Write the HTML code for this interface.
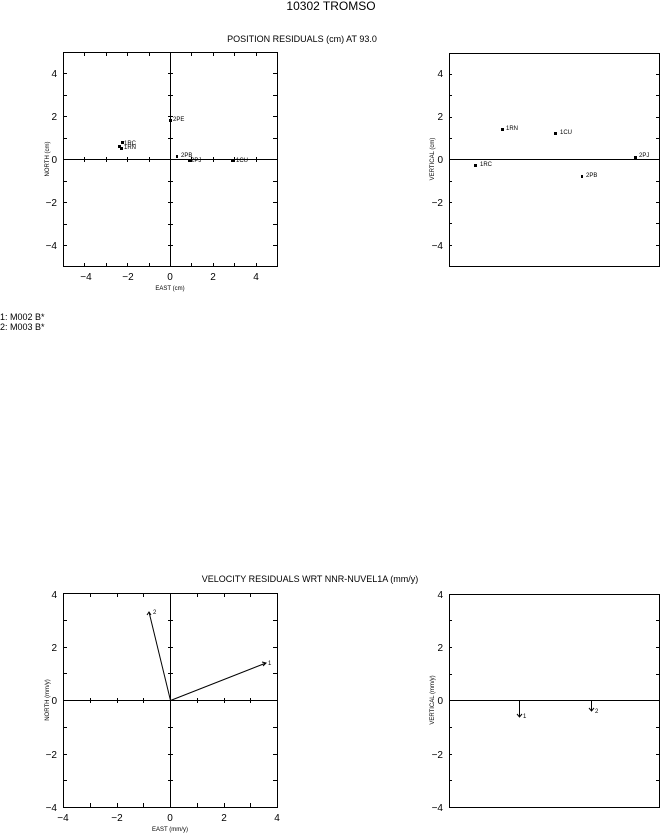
<!DOCTYPE html>
<html><head><style>
html,body{margin:0;padding:0;background:#fff;}
svg text{font-family:"Liberation Sans",sans-serif;fill:#000;}
</style></head><body>
<svg width="663" height="833" viewBox="0 0 663 833" xmlns="http://www.w3.org/2000/svg">
<text x="331" y="10" font-size="12" text-anchor="middle">10302 TROMSO</text>
<text x="302" y="42" font-size="9" text-anchor="middle">POSITION RESIDUALS (cm) AT 93.0</text>
<text x="310" y="582" font-size="9" text-anchor="middle">VELOCITY RESIDUALS WRT NNR-NUVEL1A (mm/y)</text>

<g stroke="#000" fill="none" stroke-width="1">
<rect x="63.5" y="52.5" width="214" height="214"/>
<line x1="63" y1="159.5" x2="277" y2="159.5"/>
<line x1="170.5" y1="52" x2="170.5" y2="267"/>
<rect x="449.5" y="53.5" width="210" height="213"/>
<line x1="449" y1="159.5" x2="659" y2="159.5"/>
<rect x="63.5" y="593.5" width="214" height="214"/>
<line x1="63" y1="700.5" x2="277" y2="700.5"/>
<line x1="170.5" y1="593" x2="170.5" y2="807"/>
<line x1="170.5" y1="700.5" x2="266" y2="663"/>
<line x1="170.5" y1="700.5" x2="149" y2="612"/>
<rect x="449.5" y="594.5" width="210" height="213"/>
<line x1="449" y1="700.5" x2="659" y2="700.5"/>
<line x1="519.5" y1="700" x2="519.5" y2="717"/>
<line x1="591.5" y1="700" x2="591.5" y2="711"/>
<path d="M517 714 L519.5 717 L522 714 M589 708 L591.5 711 L594 708 M262 662 L266 663 L263 666 M147 615 L149 612 L151 615"/>
</g>
<g stroke="#000" stroke-width="1">
<path d="M84.5 52v4M106.5 52v4M127.5 52v4M149.5 52v4M191.5 52v4M213.5 52v4M234.5 52v4M256.5 52v4
M84.5 267v-4M106.5 267v-4M127.5 267v-4M149.5 267v-4M191.5 267v-4M213.5 267v-4M234.5 267v-4M256.5 267v-4
M63 73.5h4M63 95.5h4M63 116.5h4M63 138.5h4M63 181.5h4M63 202.5h4M63 224.5h4M63 245.5h4
M277 73.5h-4M277 95.5h-4M277 116.5h-4M277 138.5h-4M277 181.5h-4M277 202.5h-4M277 224.5h-4M277 245.5h-4
M168 73.5h5M168 95.5h5M168 116.5h5M168 138.5h5M168 181.5h5M168 202.5h5M168 224.5h5M168 245.5h5
M84.5 157v5M106.5 157v5M127.5 157v5M149.5 157v5M191.5 157v5M213.5 157v5M234.5 157v5M256.5 157v5"/>
<path d="M449 74.5h3M449 95.5h3M449 117.5h3M449 138.5h3M449 181.5h3M449 202.5h3M449 223.5h3M449 245.5h3
M659 74.5h-3M659 95.5h-3M659 117.5h-3M659 138.5h-3M659 181.5h-3M659 202.5h-3M659 223.5h-3M659 245.5h-3"/>
<path d="M90.5 593v4M117.5 593v4M143.5 593v4M197.5 593v4M224.5 593v4M250.5 593v4
M90.5 807v-4M117.5 807v-4M143.5 807v-4M197.5 807v-4M224.5 807v-4M250.5 807v-4
M63 620.5h4M63 647.5h4M63 673.5h4M63 727.5h4M63 754.5h4M63 780.5h4
M277 620.5h-4M277 647.5h-4M277 673.5h-4M277 727.5h-4M277 754.5h-4M277 780.5h-4
M168 620.5h5M168 647.5h5M168 673.5h5M168 727.5h5M168 754.5h5M168 780.5h5
M90.5 698v5M117.5 698v5M143.5 698v5M197.5 698v5M224.5 698v5M250.5 698v5"/>
<path d="M449 620.5h3M449 647.5h3M449 674.5h3M449 727.5h3M449 754.5h3M449 780.5h3
M659 620.5h-3M659 647.5h-3M659 674.5h-3M659 727.5h-3M659 754.5h-3M659 780.5h-3"/>
</g>
<g font-size="10" text-anchor="end">
<text x="57" y="77">4</text><text x="57" y="120">2</text><text x="57" y="163">0</text><text x="57" y="206">−2</text><text x="57" y="249">−4</text>
<text x="443" y="77">4</text><text x="443" y="120">2</text><text x="443" y="163">0</text><text x="443" y="206">−2</text><text x="443" y="249">−4</text>
<text x="57" y="598">4</text><text x="57" y="651">2</text><text x="57" y="704">0</text><text x="57" y="758">−2</text><text x="57" y="811">−4</text>
<text x="443" y="598">4</text><text x="443" y="651">2</text><text x="443" y="704">0</text><text x="443" y="758">−2</text><text x="443" y="811">−4</text>
</g>
<g font-size="10" text-anchor="middle">
<text x="86" y="280">−4</text><text x="128" y="280">−2</text><text x="170" y="280">0</text><text x="213" y="280">2</text><text x="256" y="280">4</text>
<text x="63" y="821">−4</text><text x="117" y="821">−2</text><text x="170" y="821">0</text><text x="224" y="821">2</text><text x="277" y="821">4</text>
</g>
<g font-size="6">
<text x="170" y="290" text-anchor="middle">EAST (cm)</text>
<text x="170" y="831" text-anchor="middle">EAST (mm/y)</text>
<text transform="translate(49,159) rotate(-90)" text-anchor="middle">NORTH (cm)</text>
<text transform="translate(434,159) rotate(-90)" text-anchor="middle">VERTICAL (cm)</text>
<text transform="translate(49,700) rotate(-90)" text-anchor="middle">NORTH (mm/y)</text>
<text transform="translate(434,700) rotate(-90)" text-anchor="middle">VERTICAL (mm/y)</text>
</g>
<g fill="#000">
<rect x="169" y="119" width="3" height="3"/><rect x="118" y="145" width="3" height="3"/><rect x="121" y="141" width="3" height="3"/><rect x="120" y="147" width="3" height="3"/>
<rect x="176" y="155" width="2" height="3"/><rect x="188" y="159" width="3" height="3"/><rect x="231" y="159" width="3" height="3"/>
<rect x="501" y="128" width="3" height="3"/><rect x="554" y="132" width="3" height="3"/><rect x="634" y="156" width="3" height="3"/><rect x="474" y="164" width="3" height="3"/><rect x="581" y="175" width="2" height="3"/>
</g>
<g font-size="6">
<text x="173" y="121">2PE</text><text x="124" y="145">1RC</text><text x="124" y="149">1RN</text>
<text x="181" y="157">2PB</text><text x="191" y="162">2PJ</text><text x="236" y="162">1CU</text>
<text x="506" y="130">1RN</text><text x="560" y="134">1CU</text><text x="639" y="157">2PJ</text><text x="480" y="166">1RC</text><text x="586" y="177">2PB</text>
<text x="268" y="665">1</text><text x="153" y="614">2</text><text x="523" y="718">1</text><text x="595" y="713">2</text>
</g>
<g font-size="9">
<text x="0" y="320">1: M002 B*</text><text x="0" y="330">2: M003 B*</text>
</g>
</svg>
</body></html>
